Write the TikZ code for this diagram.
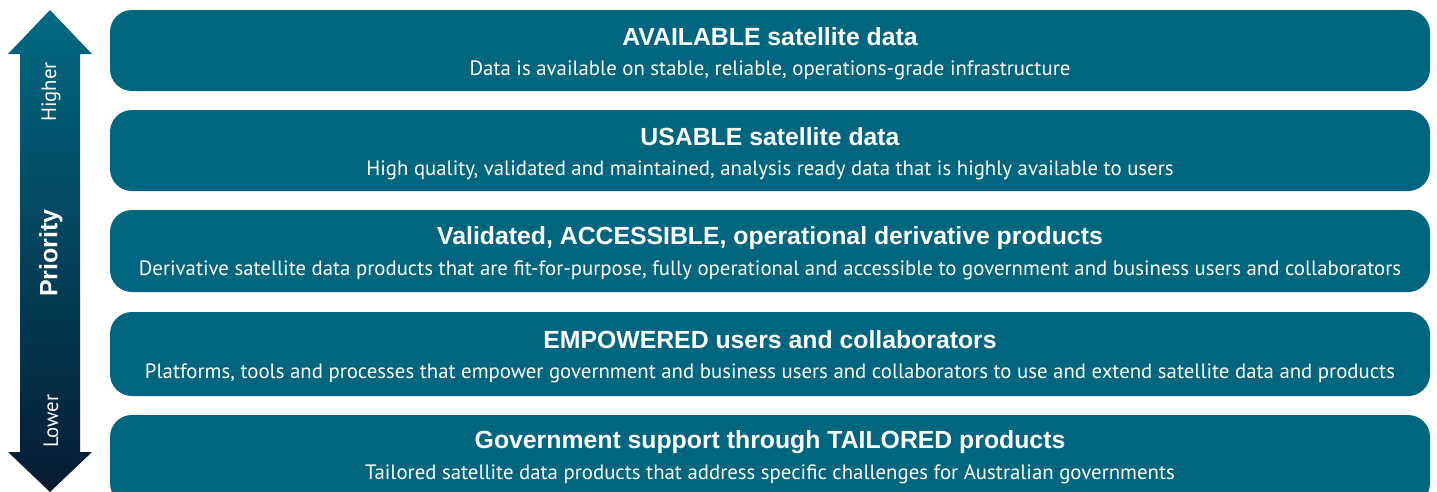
\documentclass[tikz,border=0pt]{standalone}
\usepackage{fontspec}
\setmainfont{Liberation Sans}
\newfontfamily\subf{PT Sans}
\definecolor{boxteal}{HTML}{00667F}
\definecolor{arrtop}{HTML}{006A82}
\definecolor{arrbot}{HTML}{051B33}
\tikzset{
  tier/.style={fill=boxteal, draw=none, rounded corners=22pt, minimum width=1320pt, inner sep=0pt},
  ttl/.style={text=white, font=\fontsize{24.8}{28}\selectfont\bfseries, inner sep=0pt},
  sub/.style={text=white, font=\subf\fontsize{20.8}{24}\selectfont, inner sep=0pt},
  lbl/.style={text=white, rotate=90, inner sep=0pt}
}
\begin{document}
\begin{tikzpicture}[x=1pt,y=-1pt]
\useasboundingbox (0,0) rectangle (1437,491);
% arrow
\shade[top color=arrtop, bottom color=arrbot]
  (50,10) -- (92,54) -- (80,54) -- (80,452) -- (92,452) -- (50,492) -- (8,452) -- (20,452) -- (20,54) -- (8,54) -- cycle;
\node[lbl, font=\subf\fontsize{20.8}{24}\selectfont] (hi) at (51,92) {Higher};
\node[lbl, font=\fontsize{25}{28}\selectfont\bfseries] (pr) at (51,253) {Priority};
\node[lbl, font=\subf\fontsize{20.8}{24}\selectfont] (lo) at (51,421) {Lower};
% boxes
\node[tier, minimum height=81pt] (b1) at (770,50.5) {};
\node[tier, minimum height=81pt] (b2) at (770,150.5) {};
\node[tier, minimum height=82pt] (b3) at (770,251) {};
\node[tier, minimum height=84pt] (b4) at (770,354) {};
\node[tier, minimum height=90pt] (b5) at (770,460) {};
\node[ttl] (t1) at (770,37) {AVAILABLE satellite data};
\node[sub] (s1) at (770,70) {Data is available on stable, reliable, operations-grade infrastructure};
\node[ttl] (t2) at (770,137) {USABLE satellite data};
\node[sub] (s2) at (770,170) {High quality, validated and maintained, analysis ready data that is highly available to users};
\node[ttl] (t3) at (770,238) {Validated, ACCESSIBLE, operational derivative products};
\node[sub] (s3) at (770,270) {Derivative satellite data products that are fit-for-purpose, fully operational and accessible to government and business users and collaborators};
\node[ttl] (t4) at (770,340) {EMPOWERED users and collaborators};
\node[sub] (s4) at (770,373) {Platforms, tools and processes that empower government and business users and collaborators to use and extend satellite data and products};
\node[ttl] (t5) at (770,442) {Government support through TAILORED products};
\node[sub] (s5) at (770,474) {Tailored satellite data products that address specific challenges for Australian governments};
\end{tikzpicture}
\end{document}
